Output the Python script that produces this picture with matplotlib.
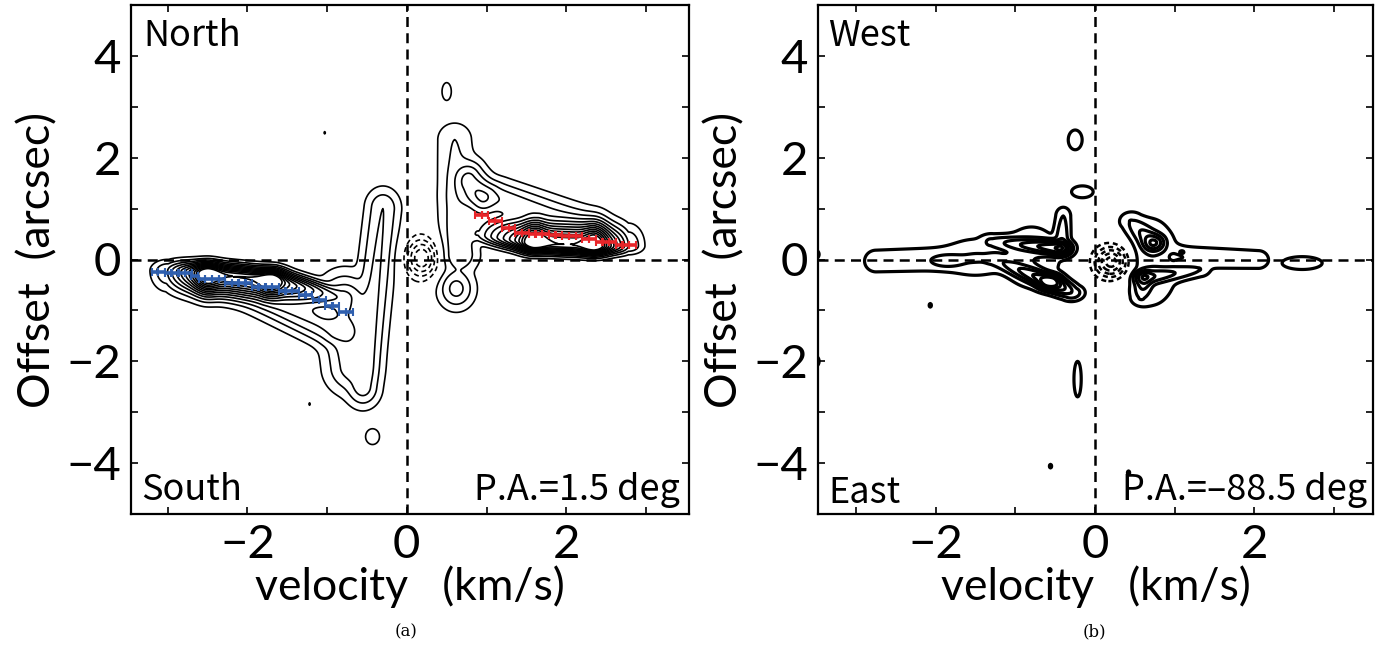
import numpy as np
import matplotlib.pyplot as plt

# ---- panel (a) P.A.=1.5 deg : emission components ----
# each component is a gaussian ridge from (va, ya) to (vb, yb), amplitude ampa -> ampb,
# width sv in velocity and sy_lo / sy_hi below / above the ridge line
a_va    = [0.90, 1.60, 2.35, 1.00, 0.66, 0.78, 0.62,
           -3.00, -2.50, -1.70, -1.90, -0.78, -0.30,
           0.50, -0.43, -1.03, -1.22]
a_ya    = [0.50, 0.32, 0.27, 1.25, 0.10, 1.55, -0.57,
           -0.22, -0.28, -0.40, -0.60, -0.80, 1.00,
           3.30, -3.48, 2.49, -2.84]
a_vb    = [1.60, 2.35, 2.78, 2.10, 0.60, 0.95, 0.62,
           -2.50, -1.70, -0.85, -0.90, -0.70, -0.55,
           0.50, -0.43, -1.03, -1.22]
a_yb    = [0.32, 0.27, 0.27, 0.72, 2.35, 1.20, -0.57,
           -0.28, -0.40, -0.75, -1.40, -2.10, -2.50,
           3.30, -3.48, 2.49, -2.84]
a_sv    = [0.15, 0.15, 0.14, 0.30, 0.18, 0.16, 0.17,
           0.15, 0.15, 0.15, 0.25, 0.24, 0.16,
           0.06, 0.09, 0.015, 0.015]
a_sy_lo = [0.13, 0.13, 0.12, 0.25, 0.28, 0.30, 0.30,
           0.28, 0.28, 0.28, 0.25, 0.40, 0.30,
           0.18, 0.16, 0.04, 0.04]
a_sy_hi = [0.33, 0.33, 0.30, 0.25, 0.28, 0.30, 0.30,
           0.15, 0.15, 0.15, 0.25, 0.40, 0.30,
           0.18, 0.16, 0.04, 0.04]
a_ampa  = [3.0, 12.0, 12.0, 4.0, 3.0, 4.4, 3.4,
           3.0, 12.0, 12.0, 4.5, 4.0, 3.0,
           1.6, 1.6, 1.2, 1.2]
a_ampb  = [12.0, 12.0, 3.0, 3.0, 2.0, 4.4, 3.4,
           12.0, 12.0, 4.0, 4.0, 3.5, 3.5,
           1.6, 1.6, 1.2, 1.2]
# absorption dip near systemic velocity
a_neg = dict(v=0.19, y=0.03, sv=0.14, sy=0.27, amp=-5.0)
a_levels = np.arange(1, 13)
a_neg_levels = [-4, -3, -2, -1]

# peak offsets per channel (red / blue)
red_v   = [0.90, 0.98, 1.07, 1.15, 1.24, 1.32, 1.40, 1.49, 1.57, 1.66, 1.74, 1.82,
           1.91, 1.99, 2.08, 2.16, 2.24, 2.33, 2.41, 2.50, 2.58, 2.66, 2.75, 2.83]
red_off = [0.87, 0.87, 0.76, 0.76, 0.61, 0.61, 0.53, 0.53, 0.50, 0.50, 0.50, 0.48,
           0.48, 0.46, 0.46, 0.46, 0.41, 0.41, 0.35, 0.35, 0.35, 0.28, 0.28, 0.28]
blue_v   = [-3.16, -3.08, -2.99, -2.91, -2.82, -2.74, -2.66, -2.57, -2.49, -2.40,
            -2.32, -2.24, -2.15, -2.07, -1.98, -1.90, -1.82, -1.73, -1.65, -1.56,
            -1.48, -1.40, -1.31, -1.23, -1.14, -1.06, -0.98, -0.89, -0.81, -0.72]
blue_off = [-0.25, -0.25, -0.27, -0.27, -0.27, -0.27, -0.33, -0.39, -0.39, -0.39,
            -0.39, -0.47, -0.47, -0.47, -0.47, -0.54, -0.54, -0.54, -0.54, -0.61,
            -0.61, -0.61, -0.69, -0.69, -0.79, -0.79, -0.91, -0.91, -1.03, -1.03]
chan_w = 0.084

# ---- panel (b) P.A.=-88.5 deg ----
b_va   = [-2.75, -1.86, -1.30, -1.25, -0.57, -0.42, -1.50, -0.80,
          1.00, 0.45, 0.73, 0.62, 0.62, 1.09, 0.70,
          2.60, -0.25, -0.16, -0.22, -2.07, -0.56, 0.42, -3.52, -3.52]
b_ya   = [-0.03, -0.03, 0.35, 0.00, -0.44, 0.30, 0.05, 0.05,
          0.05, 0.75, 0.33, -0.35, -0.35, 0.15, -0.05,
          -0.07, 2.35, 1.33, -2.35, -0.90, -4.06, -4.19, 0.10, -2.00]
b_vb   = [-1.00, -1.86, -0.45, -0.57, -0.30, -0.40, -1.50, -0.80,
          2.05, 0.73, 0.73, 1.30, 0.58, 1.09, 0.70,
          2.60, -0.25, -0.16, -0.22, -2.07, -0.56, 0.42, -3.52, -3.52]
b_yb   = [0.05, -0.03, 0.22, -0.44, -0.65, 0.85, 0.05, 0.05,
          0.00, 0.33, 0.33, -0.20, -0.75, 0.15, -0.05,
          -0.07, 2.35, 1.33, -2.35, -0.90, -4.06, -4.19, 0.10, -2.00]
b_sv   = [0.15, 0.20, 0.12, 0.12, 0.12, 0.08, 0.35, 0.30,
          0.13, 0.12, 0.12, 0.12, 0.10, 0.03, 0.30,
          0.26, 0.09, 0.14, 0.047, 0.02, 0.02, 0.02, 0.06, 0.06]
b_sy   = [0.22, 0.12, 0.12, 0.12, 0.12, 0.15, 0.35, 0.50,
          0.18, 0.15, 0.15, 0.12, 0.12, 0.03, 0.75,
          0.13, 0.20, 0.12, 0.36, 0.05, 0.05, 0.05, 0.10, 0.12]
b_ampa = [1.6, 2.5, 2.2, 2.2, 6.2, 3.0, 1.6, 2.0,
          2.0, 2.0, 4.2, 4.2, 4.2, 2.1, 1.9,
          1.6, 1.6, 1.6, 1.6, 1.3, 1.3, 1.3, 1.5, 1.5]
b_ampb = [1.8, 2.5, 6.2, 6.2, 3.0, 2.0, 1.6, 2.0,
          1.6, 4.2, 4.2, 2.0, 2.0, 2.1, 1.9,
          1.6, 1.6, 1.6, 1.6, 1.3, 1.3, 1.3, 1.5, 1.5]
b_neg = dict(v=0.21, y=-0.05, sv=0.15, sy=0.22, amp=-6.0)
b_levels = np.arange(1, 7)
b_neg_levels = [-5, -4, -3, -2, -1]

vel = np.linspace(-3.7, 3.7, 741)
off = np.linspace(-5.2, 5.2, 521)
V, Y = np.meshgrid(vel, off)


def ridge(va, ya, vb, yb, sv, sy_lo, sy_hi, amp_a, amp_b):
    sy = 0.5 * (sy_lo + sy_hi)
    dx, dy = (vb - va) / sv, (yb - ya) / sy
    L2 = dx * dx + dy * dy
    if L2 > 0:
        t = np.clip(((V - va) / sv * dx + (Y - ya) / sy * dy) / L2, 0, 1)
    else:
        t = np.zeros_like(V)
    vf = va + t * (vb - va)
    yf = ya + t * (yb - ya)
    s = np.where(Y >= yf, sy_hi, sy_lo)
    d2 = ((V - vf) / sv) ** 2 + ((Y - yf) / s) ** 2
    return (amp_a + (amp_b - amp_a) * t) * np.exp(-0.5 * d2)


def build(va, ya, vb, yb, sv, sy_lo, sy_hi, ampa, ampb, neg, p=3.0):
    acc = np.zeros_like(V)
    for i in range(len(va)):
        acc += ridge(va[i], ya[i], vb[i], yb[i], sv[i], sy_lo[i], sy_hi[i], ampa[i], ampb[i]) ** p
    field = acc ** (1.0 / p)
    field += ridge(neg['v'], neg['y'], neg['v'], neg['y'], neg['sv'], neg['sy'], neg['sy'],
                   neg['amp'], neg['amp'])
    return field


Za = build(a_va, a_ya, a_vb, a_yb, a_sv, a_sy_lo, a_sy_hi, a_ampa, a_ampb, a_neg)
Zb = build(b_va, b_ya, b_vb, b_yb, b_sv, b_sy, b_sy, b_ampa, b_ampb, b_neg)

lab_font = {'family': 'Noto Sans CJK JP', 'size': 26}

fig = plt.figure(figsize=(13.9, 6.47), dpi=100)
ax1 = fig.add_axes([131 / 1390, 1 - 514 / 647, 558 / 1390, 509 / 647])
ax2 = fig.add_axes([818 / 1390, 1 - 514 / 647, 555 / 1390, 509 / 647])


def style(ax, xlim):
    ax.set_xlim(*xlim)
    ax.set_ylim(-5, 5)
    ax.set_xticks([-3, -2, -1, 0, 1, 2, 3])
    ax.set_xticklabels(['', '\u22122', '', '0', '', '2', ''])
    ax.set_yticks([-5, -4, -3, -2, -1, 0, 1, 2, 3, 4, 5])
    ax.set_yticklabels(['', '\u22124', '', '\u22122', '', '0', '', '2', '', '4', ''])
    ax.tick_params(direction='in', top=True, right=True, length=5, width=1.2, pad=7)
    for lab in ax.get_xticklabels() + ax.get_yticklabels():
        lab.set_fontfamily('Lato')
        lab.set_fontsize(34)
    for s in ax.spines.values():
        s.set_linewidth(1.6)
    ax.axhline(0, color='black', lw=1.8, ls=(0, (4, 2.5)), zorder=1)
    ax.axvline(0, color='black', lw=1.8, ls=(0, (4, 2.5)), zorder=1)
    ax.set_xlabel('velocity   (km/s)', fontfamily='Lato', fontsize=32, labelpad=0)
    ax.set_ylabel('Offset  (arcsec)', fontfamily='Lato', fontsize=32, labelpad=6)


# panel (a)
ax1.contour(V, Y, Za, levels=a_levels, colors='black', linewidths=1.2, linestyles='solid')
ax1.contour(V, Y, Za, levels=a_neg_levels, colors='black', linewidths=1.2, linestyles=[(0, (3, 2))])
ax1.errorbar(red_v, red_off, xerr=chan_w / 2, fmt='none', ecolor='#e8262a',
             elinewidth=2.6, capsize=2.8, capthick=1.5, zorder=5)
ax1.errorbar(blue_v, blue_off, xerr=chan_w / 2, fmt='none', ecolor='#2f5fae',
             elinewidth=2.6, capsize=2.8, capthick=1.5, zorder=5)
style(ax1, (-3.46, 3.54))
ax1.text(0.022, 0.975, 'North', transform=ax1.transAxes, ha='left', va='top', **lab_font)
ax1.text(0.018, 0.028, 'South', transform=ax1.transAxes, ha='left', va='baseline', **lab_font)
ax1.text(0.984, 0.028, 'P.A.=1.5 deg', transform=ax1.transAxes, ha='right', va='baseline', **lab_font)

# panel (b)
ax2.contour(V, Y, Zb, levels=b_levels, colors='black', linewidths=2.3, linestyles='solid')
ax2.contour(V, Y, Zb, levels=b_neg_levels, colors='black', linewidths=1.8, linestyles=[(0, (2, 1.5))])
style(ax2, (-3.48, 3.49))
ax2.text(0.018, 0.975, 'West', transform=ax2.transAxes, ha='left', va='top', **lab_font)
ax2.text(0.018, 0.022, 'East', transform=ax2.transAxes, ha='left', va='baseline', **lab_font)
ax2.text(0.99, 0.028, 'P.A.=\u201388.5 deg', transform=ax2.transAxes, ha='right', va='baseline', **lab_font)

fig.text(406 / 1390, 1 - 632 / 647, '(a)', ha='center', va='center', family='DejaVu Serif', fontsize=12)
fig.text(1094 / 1390, 1 - 632 / 647, '(b)', ha='center', va='center', family='DejaVu Serif', fontsize=12)

fig.savefig('out.png', dpi=100)
